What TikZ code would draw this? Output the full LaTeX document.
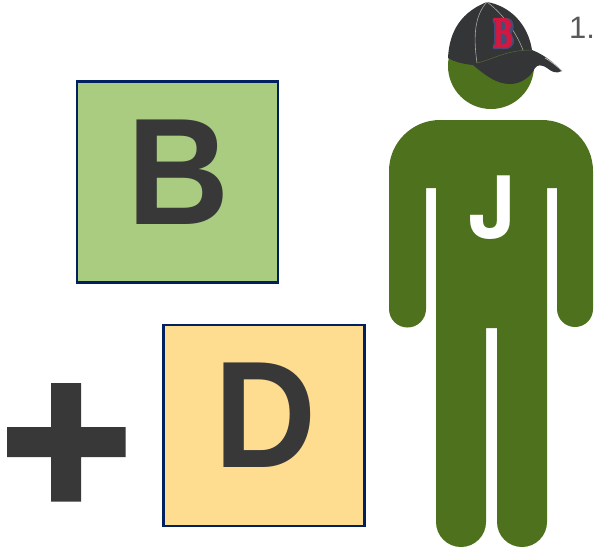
\documentclass[tikz,border=0pt]{standalone}
\usepackage{fontspec}
\setmainfont{Liberation Sans}
\newfontfamily\logofont{Liberation Serif}
\newfontfamily\jfont{TeX Gyre Heros}
\definecolor{mangreen}{HTML}{4E711D}
\definecolor{boxgreen}{HTML}{A9CC80}
\definecolor{boxyellow}{HTML}{FFDD90}
\definecolor{boxline}{HTML}{002060}
\definecolor{inkdark}{HTML}{383838}
\definecolor{capdark}{HTML}{333536}
\definecolor{capred}{HTML}{D3173F}
\definecolor{capnavy}{HTML}{454C78}
\definecolor{numgrey}{HTML}{595959}
\definecolor{seamgreen}{HTML}{56683A}
\newcommand{\bigletter}[1]{\scalebox{0.93}[1]{#1}}
\newcommand{\logoB}{\special{pdf:code q 2 Tr 0.827 0.09 0.247 RG 1.3 w}\scalebox{0.66}[1]{B}\special{pdf:code Q}}
\tikzset{
  letterbox/.style={draw=boxline,line width=2.2pt,minimum width=201pt,minimum height=201pt,inner sep=0pt},
  bigtext/.style={text=inkdark,inner sep=0pt,font=\fontsize{152}{152}\selectfont\bfseries},
  logotext/.style={inner sep=0pt,font=\logofont\fontsize{44}{44}\selectfont\bfseries},
  seam/.style={line width=0.5pt,draw=seamgreen},
  seamlight/.style={line width=0.6pt,draw=gray!70!white}
}
\begin{document}
\begin{tikzpicture}[x=1pt,y=-1pt]
\useasboundingbox (0,0) rectangle (596,555);
\node[letterbox,fill=boxgreen] (b) at (177.5,182) {};
\node[letterbox,fill=boxyellow] (d) at (264,425.5) {};
\node[bigtext] (bl) at (178.5,172) {\bigletter{B}};
\node[bigtext] (dl) at (266,415) {\bigletter{D}};
% plus
\fill[inkdark] (51,383) -- (81,383) -- (81,427) -- (125.5,427) -- (125.5,457) -- (81,457) -- (81,501.5) -- (51,501.5) -- (51,457) -- (7,457) -- (7,427) -- (51,427) -- cycle;
% man
\fill[mangreen] (491,66) circle (43);
\fill[mangreen] (440,120) -- (542,120) arc[start angle=-90,end angle=0,radius=51] -- (593,309) arc[start angle=0,end angle=180,radius=18] -- (557,188) -- (547,188) -- (547,522) arc[start angle=0,end angle=180,radius=25] -- (497,328) -- (486,328) -- (486,522) arc[start angle=0,end angle=180,radius=25] -- (436,188) -- (426,188) -- (426,309) arc[start angle=0,end angle=180,radius=18.5] -- (389,171) arc[start angle=180,end angle=270,radius=51] -- cycle;
\node[text=white,font=\jfont\fontsize{86}{86}\selectfont\bfseries,inner sep=0pt] (j) at (492,207.5) {J};
% cap
\fill[capdark] (448,58) .. controls (449,38) and (456,14) .. (487,2) .. controls (510,6) and (528,24) .. (532,50) .. controls (545,55) and (555,64) .. (562,71) .. controls (556,74) and (552,72) .. (547,68) .. controls (541,64) and (537,65) .. (535,68) .. controls (530,78) and (520,84) .. (510,84) .. controls (497,84) and (486,76) .. (473,65) .. controls (463,64) and (455,62) .. (448,58) -- cycle;
\draw[seamlight] (487,2) .. controls (475,15) and (473,35) .. (477,63);
\draw[seamlight] (487,2) .. controls (503,14) and (516,32) .. (523,50);
\draw[seam] (477,63) .. controls (492,60) and (505,50) .. (532,50);
\draw[line width=0.7pt,draw=gray!50!white] (545,58) .. controls (552,62) and (558,67) .. (562,71);
% logo outline behind the letter
\fill[capnavy,rounded corners=2.5pt] (491.5,18.5) -- (510,18) -- (513.5,23) -- (513.5,30) -- (510.5,33.5) -- (514,38) -- (514,44) -- (509,49) -- (491.5,49) -- (494,44) -- (494,24) -- cycle;
\node[logotext,text=capred] (logo) at (503,33) {\logoB};
\node[text=numgrey,font=\fontsize{31}{31}\selectfont,inner sep=0pt,anchor=west] (num) at (569,27.5) {1.};
\end{tikzpicture}
\end{document}
